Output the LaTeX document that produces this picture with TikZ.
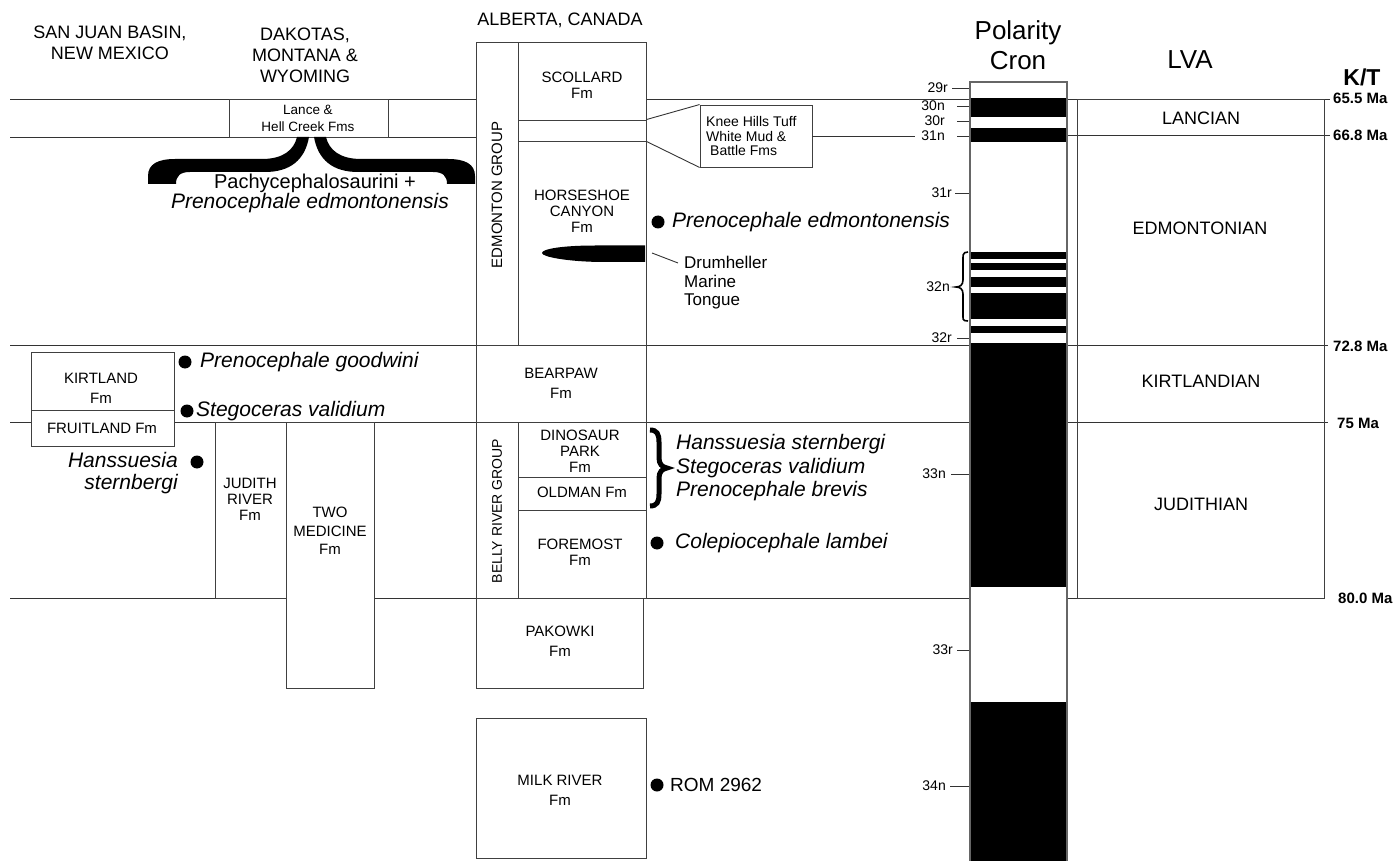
\documentclass[tikz,border=0pt]{standalone}
\usepackage{fontspec}
\setmainfont{Liberation Sans}
\usetikzlibrary{fit}
\begin{document}
\begin{tikzpicture}[x=1pt,y=-1pt,
 tline/.style={draw=black!80, line width=0.9pt},
 bx/.style={draw=black!75, line width=0.9pt, fill=white, inner sep=0pt},
 fmlbl/.style={font=\fontsize{15}{16}\selectfont, align=center, inner sep=0pt},
 hdr/.style={font=\fontsize{18}{21}\selectfont, align=center, inner sep=0pt},
 sp/.style={font=\fontsize{21}{23.5}\selectfont\itshape, inner sep=0pt, anchor=west, align=left},
 dotm/.style={circle, fill=black, minimum size=13pt, inner sep=0pt},
 pl/.style={font=\fontsize{14}{16}\selectfont, inner sep=0pt, anchor=east},
 tk/.style={draw=black!80, line width=0.9pt},
 ma/.style={font=\bfseries\fontsize{15}{17}\selectfont, inner sep=0pt, anchor=west},
 lvat/.style={font=\fontsize{18}{20}\selectfont, inner sep=0pt}]
\useasboundingbox (0,0) rectangle (1393,861);

% time lines
\coordinate (tA1) at (10,99);   \coordinate (tA2) at (1330,99);
\coordinate (tB1) at (10,137);  \coordinate (tB2) at (476,137);
\coordinate (tB3) at (1067,135); \coordinate (tB4) at (1330,135);
\coordinate (tC1) at (10,345);  \coordinate (tC2) at (1328,345);
\coordinate (tD1) at (10,422);  \coordinate (tD2) at (1328,422);
\coordinate (tE1) at (10,598);  \coordinate (tE2) at (1324,598);
\draw[tline] (tA1) -- (tA2);
\draw[tline] (tB1) -- (tB2);
\draw[tline] (tB3) -- (tB4);
\draw[tline] (tC1) -- (tC2);
\draw[tline] (tD1) -- (tD2);
\draw[tline] (tE1) -- (tE2);

% boxes
\node[bx, fit={(229,99) (388,137)}] (lance) {};
\node[bx, fit={(476,42) (518,345)}] (edm) {};
\node[bx, fit={(518,42) (646,120)}] (scollard) {};
\node[bx, fit={(518,120) (646,141)}] (kstrip) {};
\node[bx, fit={(518,141) (646,345)}] (horse) {};
\node[bx, fit={(476,345) (646,422)}] (bearpaw) {};
\node[bx, fit={(476,422) (518,598)}] (belly) {};
\node[bx, fit={(518,422) (646,477)}] (dino) {};
\node[bx, fit={(518,477) (646,510)}] (oldman) {};
\node[bx, fit={(518,510) (646,598)}] (foremost) {};
\node[bx, fit={(476,598) (643,688)}] (pakowki) {};
\node[bx, fit={(476,718) (646,858)}] (milk) {};
\node[bx, fit={(700,105) (812,167)}] (knee) {};
\node[bx, fit={(31,352) (174,410)}] (kirt) {};
\node[bx, fit={(31,410) (174,446)}] (fruit) {};
\node[bx, fit={(215,422) (286,598)}] (judith) {};
\node[bx, fit={(286,422) (374,688)}] (twomed) {};
\node[draw=black!75, line width=0.9pt, inner sep=0pt, fit={(1077,99) (1324,598)}] (lva) {};

% knee hills pointer
\draw[tline] (kstrip.north east) -- (knee.north west);
\draw[tline] (kstrip.south east) -- (knee.south west);
\coordinate (kneeEnd) at (915,136);
\draw[tline] (knee.east) -- (kneeEnd);

% polarity column
\node[draw=black!60, line width=1.2pt, fill=white, inner sep=0pt, fit={(970,82) (1067,861)}] (polcol) {};
\foreach \a/\b in {98/117,128/142,252/259,263/270,277/287,293/319,326/333,343/587,702/861}
  \fill[black] (970.6,\a) rectangle (1066.4,\b);

% polarity labels
\node[pl] (l29r) at (948,88) {29r};
\node[pl] (l30n) at (945,106) {30n};
\node[pl] (l30r) at (945,121) {30r};
\node[pl] (l31n) at (945,136) {31n};
\node[pl] (l31r) at (952,193) {31r};
\node[pl] (l32n) at (950,287) {32n};
\node[pl] (l32r) at (952,338) {32r};
\node[pl] (l33n) at (946,474) {33n};
\node[pl] (l33r) at (953,650) {33r};
\node[pl] (l34n) at (946,786) {34n};
\draw[tk] ([xshift=4pt]l29r.east) -- (l29r.east -| polcol.west);
\draw[tk] ([xshift=12pt]l30n.east) -- (l30n.east -| polcol.west);
\draw[tk] ([xshift=12pt]l30r.east) -- (l30r.east -| polcol.west);
\draw[tk] ([xshift=12pt]l31n.east) -- (l31n.east -| polcol.west);
\draw[tk] ([xshift=3pt]l31r.east) -- (l31r.east -| polcol.west);
\draw[tk] ([xshift=5pt]l32r.east) -- (l32r.east -| polcol.west);
\draw[tk] ([xshift=5pt]l33n.east) -- (l33n.east -| polcol.west);
\draw[tk] ([xshift=4pt]l33r.east) -- (l33r.east -| polcol.west);
\draw[tk] ([xshift=4pt]l34n.east) -- (l34n.east -| polcol.west);
\draw[line width=1.6pt] (968,252) .. controls (962,252) and (963,256) .. (963,262) -- (963,280)
  .. controls (963,285) and (960,287) .. (956,287) .. controls (960,287) and (963,289) .. (963,294)
  -- (963,313) .. controls (963,319) and (962,321) .. (968,321);

% headers
\node[hdr] (hsj) at (110,43) {SAN JUAN BASIN,\\NEW MEXICO};
\node[hdr] (hdk) at (305,55.5) {DAKOTAS,\\MONTANA \&\\WYOMING};
\node[hdr] (hab) at (560,20) {ALBERTA, CANADA};
\node[font=\fontsize{26}{30}\selectfont, align=center, inner sep=0pt] (hpc) at (1018,45) {Polarity\\Cron};
\node[font=\fontsize{26}{30}\selectfont, inner sep=0pt] (hlva) at (1190,60) {LVA};
\node[font=\bfseries\fontsize{23}{25}\selectfont, inner sep=0pt] (hkt) at (1362,77) {K/T};

% Ma labels
\node[ma] (m1) at (1333,98) {65.5 Ma};
\node[ma] (m2) at (1333,135) {66.8 Ma};
\node[ma] (m3) at (1333,346) {72.8 Ma};
\node[ma] (m4) at (1337,423) {75 Ma};
\node[ma] (m5) at (1338,598) {80.0 Ma};

% LVA labels
\node[lvat] (v1) at (1201,118) {LANCIAN};
\node[lvat] (v2) at (1200,228) {EDMONTONIAN};
\node[lvat] (v3) at (1201,381) {KIRTLANDIAN};
\node[lvat] (v4) at (1201,504) {JUDITHIAN};

% formation labels
\node[font=\fontsize{13.5}{17}\selectfont, align=center, inner sep=0pt] (tlance) at (308,118) {Lance \&\\Hell Creek Fms};
\node[fmlbl] (tsc) at (582,85) {SCOLLARD\\Fm};
\node[fmlbl] (thc) at (582,211) {HORSESHOE\\CANYON\\Fm};
\node[fmlbl, font=\fontsize{15}{20}\selectfont] (tbp) at (561,383) {BEARPAW\\Fm};
\node[fmlbl] (tdp) at (580,451) {DINOSAUR\\PARK\\Fm};
\node[fmlbl] (tol) at (582,492) {OLDMAN Fm};
\node[fmlbl] (tfm) at (580,552) {FOREMOST\\Fm};
\node[fmlbl, font=\fontsize{15}{20}\selectfont] (tpk) at (560,641) {PAKOWKI\\Fm};
\node[fmlbl, font=\fontsize{15}{20}\selectfont] (tmr) at (560,790) {MILK RIVER\\Fm};
\node[fmlbl, font=\fontsize{15}{20}\selectfont] (tki) at (101,388) {KIRTLAND\\Fm};
\node[fmlbl] (tfr) at (102,428) {FRUITLAND Fm};
\node[fmlbl] (tjr) at (250,499) {JUDITH\\RIVER\\Fm};
\node[fmlbl, font=\fontsize{15}{18.5}\selectfont] (ttm) at (330,531) {TWO\\MEDICINE\\Fm};
\node[fmlbl, rotate=90] (teg) at (497,195) {EDMONTON GROUP};
\node[fmlbl, font=\fontsize{14}{16}\selectfont, rotate=90] (tbr) at (497,511) {BELLY RIVER GROUP};
\node[font=\fontsize{14}{14.5}\selectfont, align=left, inner sep=0pt, anchor=west] (tkn) at (706,136) {Knee Hills Tuff\\White Mud \&\\\hspace{4pt}Battle Fms};

% drumheller tongue
\fill[black] (645,245.5) -- (595,245.5) .. controls (562,245.5) and (542,249) .. (542,253)
  .. controls (542,257) and (568,261.5) .. (600,262) -- (645,262) -- cycle;
\coordinate (drA) at (652,253);
\coordinate (drB) at (678,263);
\draw[tline] (drA) -- (drB);
\node[font=\fontsize{17}{18.5}\selectfont, align=left, inner sep=0pt, anchor=west] (tdr) at (684,283) {Drumheller\\Marine\\Tongue};

% big brace under Lance
\fill[black] (148,184) -- (148,176) .. controls (148,164) and (158,159) .. (175,159) -- (262,159)
  .. controls (283,159) and (294,150) .. (297,137) -- (309,137)
  .. controls (305,160) and (290,172) .. (265,172) -- (190,172)
  .. controls (180,172) and (176,176) .. (176,184) -- cycle;
\fill[black] (475,184) -- (475,176) .. controls (475,164) and (465,159) .. (448,159) -- (361,159)
  .. controls (340,159) and (329,150) .. (326,137) -- (314,137)
  .. controls (318,160) and (333,172) .. (358,172) -- (433,172)
  .. controls (443,172) and (447,176) .. (447,184) -- cycle;
\node[font=\fontsize{20}{22}\selectfont, inner sep=0pt] (tpach) at (315,183) {Pachycephalosaurini +};
\node[font=\fontsize{21}{22}\selectfont\itshape, inner sep=0pt] (tpre1) at (310,203) {Prenocephale edmontonensis};

% species
\node[dotm] (d1) at (658,222) {};
\node[sp] (s1) at (672,222) {Prenocephale edmontonensis};
\node[dotm] (d2) at (185,362) {};
\node[sp] (s2) at (200,362) {Prenocephale goodwini};
\node[dotm] (d3) at (187,411) {};
\node[sp] (s3) at (196,411) {Stegoceras validium};
\node[dotm] (d4) at (197,462) {};
\node[font=\fontsize{21}{22}\selectfont\itshape, align=right, inner sep=0pt, anchor=east] (s4) at (178,473) {Hanssuesia\\sternbergi};
\node[sp] (s5) at (676,468) {Hanssuesia sternbergi\\Stegoceras validium\\Prenocephale brevis};
\draw[line width=5pt] (650,430) .. controls (657,430) and (659,434) .. (659,442) -- (659,458)
  .. controls (659,464) and (662,467) .. (667,468) .. controls (662,469) and (659,472) .. (659,478)
  -- (659,494) .. controls (659,502) and (657,506) .. (650,506);
\node[dotm] (d6) at (657,543) {};
\node[sp] (s6) at (675,543) {Colepiocephale lambei};
\node[dotm] (d7) at (657,785) {};
\node[font=\fontsize{19}{21}\selectfont, inner sep=0pt, anchor=west] (s7) at (670,785) {ROM 2962};
\end{tikzpicture}
\end{document}
